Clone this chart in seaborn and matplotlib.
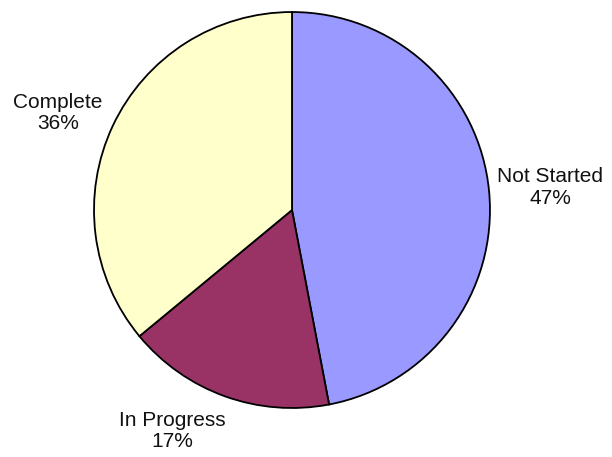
import matplotlib
matplotlib.use('Agg')
import numpy as np
import matplotlib.pyplot as plt
import seaborn as sns

# data
categories = ['Not Started', 'In Progress', 'Complete']
shares = [47, 17, 36]
slice_colors = ['#9999FF', '#993366', '#FFFFCC']

# label placement (radius, angle in degrees) around the pie
label_radius = [1.31, 1.27, 1.28]
label_angle = [5.0, -118.5, 157.5]

sns.set_theme(style='white')
plt.rcParams['font.family'] = ['Liberation Sans', 'DejaVu Sans']

fig = plt.figure(figsize=(6.12, 4.57), dpi=100)
ax = fig.add_axes([0.1536, 0.1072, 0.647, 0.8665])

labels = [f'{c}\n{v}%' for c, v in zip(categories, shares)]
wedges, texts = ax.pie(
    shares, labels=labels, colors=slice_colors, startangle=90,
    counterclock=False, labeldistance=1.3,
    wedgeprops=dict(edgecolor='black', linewidth=1.3),
    textprops=dict(fontsize=15, color='#111111', ha='center', va='center'),
)
for t, r, a in zip(texts, label_radius, label_angle):
    t.set_position((r * np.cos(np.radians(a)), r * np.sin(np.radians(a))))
    t.set_horizontalalignment('center')
    t.set_verticalalignment('center')
    t.set_multialignment('center')
    t.set_linespacing(1.15)
    t.set_clip_on(False)

ax.set_xlim(-1, 1)
ax.set_ylim(-1, 1)
ax.set_aspect('equal')
ax.axis('off')

fig.savefig('out.png', dpi=100, facecolor='white')
